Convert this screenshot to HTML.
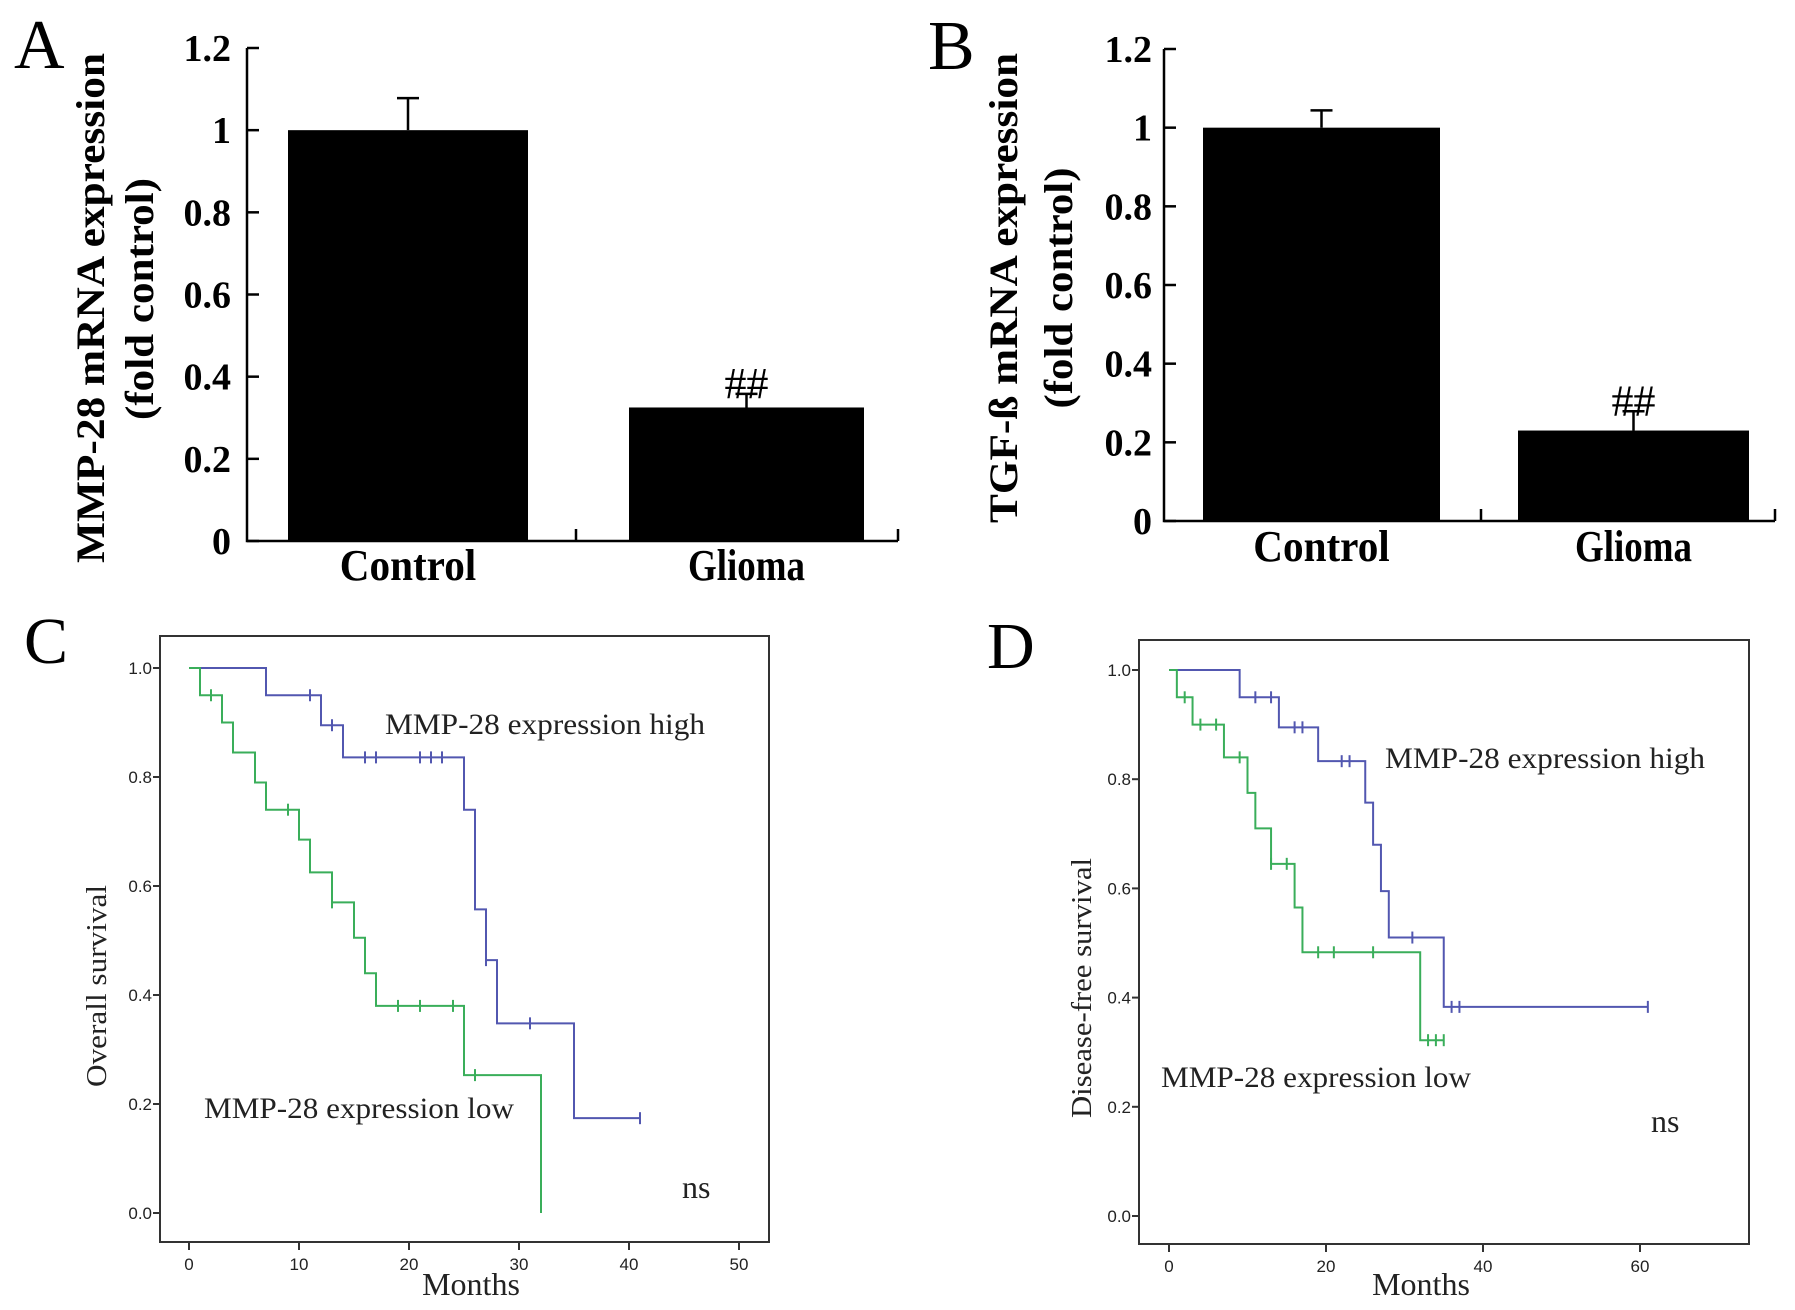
<!DOCTYPE html>
<html><head><meta charset="utf-8"><style>
html,body{margin:0;padding:0;background:#fff}
svg{display:block}
.b{font-family:"Liberation Serif",serif;font-weight:bold}
.s{font-family:"Liberation Serif",serif}
.k{font-family:"Liberation Sans",sans-serif;font-size:17px;fill:#222}
</style></head><body>
<svg id="fig" width="1795" height="1310" viewBox="0 0 1795 1310" xmlns="http://www.w3.org/2000/svg">
<g id="pA"></g>
<g id="pB"></g>
<g id="pC"></g>
<g id="pD"></g>
</svg>
<script>
// ---- Bar chart data ----
const barCategories = ["Control", "Glioma"];
const mmpValues = [1.0, 0.325];
const mmpErrors = [0.078, 0.033];
const tgfValues = [1.0, 0.23];
const tgfErrors = [0.044, 0.049];
const barTicks = [0, 0.2, 0.4, 0.6, 0.8, 1, 1.2];
const barTickLabels = ["0", "0.2", "0.4", "0.6", "0.8", "1", "1.2"];
const sigMarks = ["", "##"];

// ---- KM data (C) ----
const cHighTimes = [0, 7, 12, 14, 25, 26, 27, 28, 35, 41];
const cHighSurv = [1.0, 0.95, 0.895, 0.836, 0.74, 0.557, 0.464, 0.348, 0.174, 0.174];
const cHighCens = [11, 13, 16, 17, 21, 22, 23, 27, 31, 41];
const cLowTimes = [0, 1, 3, 4, 6, 7, 10, 11, 13, 15, 16, 17, 25, 32];
const cLowSurv = [1.0, 0.95, 0.9, 0.845, 0.79, 0.74, 0.685, 0.625, 0.57, 0.505, 0.44, 0.38, 0.253, 0.0];
const cLowCens = [2, 9, 13, 19, 21, 24, 26];
const cXTicks = [0, 10, 20, 30, 40, 50];
// ---- KM data (D) ----
const dHighTimes = [0, 9, 14, 19, 25, 26, 27, 28, 35, 61];
const dHighSurv = [1.0, 0.95, 0.895, 0.833, 0.757, 0.68, 0.595, 0.51, 0.383, 0.383];
const dHighCens = [11, 13, 16, 17, 22, 23, 31, 36, 37, 61];
const dLowTimes = [0, 1, 3, 7, 10, 11, 13, 16, 17, 32, 35];
const dLowSurv = [1.0, 0.95, 0.9, 0.84, 0.775, 0.71, 0.645, 0.565, 0.483, 0.322, 0.322];
const dLowCens = [2, 4, 6, 9, 13, 15, 19, 21, 26, 33, 34, 35];
const dXTicks = [0, 20, 40, 60];
const kmYTicks = [0, 0.2, 0.4, 0.6, 0.8, 1.0];
const kmYLabels = ["0.0", "0.2", "0.4", "0.6", "0.8", "1.0"];

const NS = "http://www.w3.org/2000/svg";
function mk(parent, tag, attrs, text) {
  const e = document.createElementNS(NS, tag);
  for (const k in attrs) e.setAttribute(k, attrs[k]);
  if (text !== undefined) e.textContent = text;
  parent.appendChild(e);
  return e;
}

function barPanel(g, o) {
  const y = v => o.y0 - (v / 1.2) * (o.y0 - o.y12);
  const L = mk(g, "text", {x: o.lx, y: o.ly, class: "s", "font-size": 70});
  L.textContent = o.letter;
  
  
  const ax = mk(g, "path", {d: `M${o.ax} ${o.y12}V${o.y0}H${o.axEnd}M${o.mid} ${o.y0}v-12M${o.axEnd} ${o.y0}v-12`, stroke: "#000", "stroke-width": 2.5, fill: "none"});
  
  
  barTicks.forEach((t, i) => {
    const tk = mk(g, "line", {x1: o.ax, x2: o.ax + 12, y1: y(t), y2: y(t), stroke: "#000", "stroke-width": 2.5});
    
    
    const tl = mk(g, "text", {x: o.tlx, y: y(t) + 13, class: "b", "font-size": 38, "text-anchor": "end"}, barTickLabels[i]);
    
    
  });
  barCategories.forEach((c, i) => {
    const v = o.vals[i], e = o.errs[i];
    const bx = o.bars[i][0], bw = o.bars[i][1] - o.bars[i][0], cx = bx + bw / 2;
    const r = mk(g, "rect", {x: bx, y: y(v), width: bw, height: o.y0 - y(v), fill: "#000"});
    
    
    const eb = mk(g, "path", {d: `M${cx} ${y(v)}V${y(v + e)}M${cx - 11} ${y(v + e)}H${cx + 11}`, stroke: "#000", "stroke-width": 2.5, fill: "none"});
    
    
    const cl = mk(g, "text", {x: cx, y: o.cly, class: "b", "font-size": 44, "text-anchor": "middle", textLength: c.length * 19.5, lengthAdjust: "spacingAndGlyphs"}, c);
    
    
    if (sigMarks[i]) {
      const sm = mk(g, "text", {x: cx, y: y(v + e) + 4, class: "s", "font-size": 44, "text-anchor": "middle"}, sigMarks[i]);
      
      
    }
  });
  o.titles.forEach((t, i) => {
    const tt = mk(g, "text", {transform: `translate(${t.x},${t.cy}) rotate(-90)`, class: "b", "font-size": 40, "text-anchor": "middle", textLength: t.len, lengthAdjust: "spacingAndGlyphs"}, t.s);
    
    
  });
}

barPanel(document.getElementById("pA"), {letter: "A", lx: 14, ly: 68, ax: 247, y0: 541, y12: 48, axEnd: 898, mid: 576, tlx: 231,
  bars: [[288, 528], [629, 864]], vals: mmpValues, errs: mmpErrors, cly: 580,
  titles: [{s: "MMP-28 mRNA expression", x: 104, cy: 308, len: 510}, {s: "(fold control)", x: 153, cy: 299, len: 242}]});
barPanel(document.getElementById("pB"), {letter: "B", lx: 928, ly: 69, ax: 1164, y0: 521, y12: 49, axEnd: 1775, mid: 1481, tlx: 1152,
  bars: [[1203, 1440], [1518, 1749]], vals: tgfValues, errs: tgfErrors, cly: 561,
  titles: [{s: "TGF-ß mRNA expression", x: 1017, cy: 288, len: 470}, {s: "(fold control)", x: 1072, cy: 288, len: 241}]});

function kmPanel(g, o) {
  const X = t => o.x0 + (t - o.tick0) / (o.tick1 - o.tick0) * (o.xt1 - o.x0);
  const Y = s => o.y0 - s * (o.y0 - o.y1);
  const L = mk(g, "text", {x: o.lx, y: o.ly, class: "s", "font-size": 66}, o.letter);
  
  
  const bx = mk(g, "rect", {x: o.bl, y: o.bt, width: o.br - o.bl, height: o.bb - o.bt, fill: "none", stroke: "#333", "stroke-width": 2});
  
  
  kmYTicks.forEach((t, i) => {
    const tk = mk(g, "line", {x1: o.bl - 7, x2: o.bl, y1: Y(t), y2: Y(t), stroke: "#333", "stroke-width": 2});
    
    
    const tl = mk(g, "text", {x: o.bl - 8, y: Y(t) + 6, class: "k", "text-anchor": "end"}, kmYLabels[i]);
    
    
  });
  o.xTicks.forEach(t => {
    const tk = mk(g, "line", {x1: X(t), x2: X(t), y1: o.bb, y2: o.bb + 8, stroke: "#333", "stroke-width": 2});
    
    
    const tl = mk(g, "text", {x: X(t), y: o.bb + 28, class: "k", "text-anchor": "middle"}, String(t));
    
    
  });
  const series = [[o.hT, o.hS, o.hC, "#5257b0", "curve-high"], [o.lT, o.lS, o.lC, "#3aae5a", "curve-low"]];
  series.forEach(([T, S, C, col, nm]) => {
    let d = `M${X(T[0])} ${Y(S[0])}`;
    for (let i = 1; i < T.length; i++) d += `H${X(T[i])}V${Y(S[i])}`;
    const p = mk(g, "path", {d: d, stroke: col, "stroke-width": 2, fill: "none"});
    
    
    C.forEach(c => {
      let s = S[0];
      for (let i = 0; i < T.length; i++) if (T[i] <= c) s = S[i];
      const m = mk(g, "line", {x1: X(c), x2: X(c), y1: Y(s) - 6, y2: Y(s) + 6, stroke: col, "stroke-width": 2});
      
      
    });
  });
  const texts = [["MMP-28 expression high", o.hx, o.hy, 320, "label-high"], ["MMP-28 expression low", o.lwx, o.lwy, 310, "label-low"]];
  texts.forEach(([s, x, y, len, nm]) => {
    const t = mk(g, "text", {x: x, y: y, class: "s", "font-size": 30, textLength: len, lengthAdjust: "spacingAndGlyphs", fill: "#222"}, s);
    
    
  });
  const ns = mk(g, "text", {x: o.nsx, y: o.nsy, class: "s", "font-size": 32, fill: "#222"}, "ns");
  
  
  const xt = mk(g, "text", {x: o.mx, y: 1295, class: "s", "font-size": 32, "text-anchor": "middle", fill: "#222"}, "Months");
  
  
  const yt = mk(g, "text", {transform: `translate(${o.ytx},${o.ytcy}) rotate(-90)`, class: "s", "font-size": 28, "text-anchor": "middle", textLength: o.ytlen, lengthAdjust: "spacingAndGlyphs", fill: "#222"}, o.ytitle);
  
  
}

kmPanel(document.getElementById("pC"), {letter: "C", lx: 24, ly: 663, bl: 160, br: 769, bt: 636, bb: 1242,
  x0: 189, xt1: 739, tick0: 0, tick1: 50, y0: 1213, y1: 668, xTicks: cXTicks,
  hT: cHighTimes, hS: cHighSurv, hC: cHighCens, lT: cLowTimes, lS: cLowSurv, lC: cLowCens,
  hx: 385, hy: 734, lwx: 204, lwy: 1118, nsx: 682, nsy: 1198, mx: 471,
  ytitle: "Overall survival", ytx: 106, ytcy: 986, ytlen: 202});
kmPanel(document.getElementById("pD"), {letter: "D", lx: 987, ly: 668, bl: 1139, br: 1749, bt: 640, bb: 1244,
  x0: 1169, xt1: 1640, tick0: 0, tick1: 60, y0: 1216, y1: 670, xTicks: dXTicks,
  hT: dHighTimes, hS: dHighSurv, hC: dHighCens, lT: dLowTimes, lS: dLowSurv, lC: dLowCens,
  hx: 1385, hy: 768, lwx: 1161, lwy: 1087, nsx: 1651, nsy: 1132, mx: 1421,
  ytitle: "Disease-free survival", ytx: 1091, ytcy: 988, ytlen: 260});
</script>
</body></html>
